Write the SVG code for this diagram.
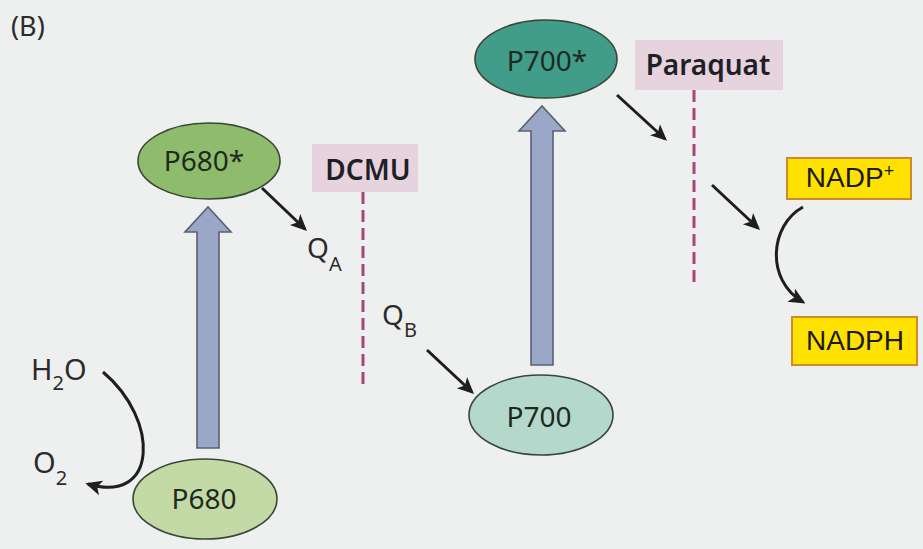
<svg xmlns="http://www.w3.org/2000/svg" width="923" height="549" viewBox="0 0 923 549">
<defs>
<style>
.lbl{font-family:"Noto Sans","Open Sans",sans-serif;fill:#2b2b2b;}
.node{font-family:"Noto Sans","Open Sans",sans-serif;fill:#1e2a1e;font-size:28px;text-anchor:middle;}
.inh{font-family:"Noto Sans","Open Sans",sans-serif;fill:#1f1f28;font-size:28px;font-weight:600;text-anchor:middle;}
.nadp{font-family:"Liberation Sans",Arial,sans-serif;fill:#1a1a10;font-size:28px;text-anchor:middle;}
.ell{stroke:#3a4636;stroke-width:1.6;}
.box{fill:#e6d3de;}
.ybox{fill:#ffe200;stroke:#cf8a2a;stroke-width:2;}
.blue{fill:#9aa7c6;stroke:#586074;stroke-width:1.6;}
.con{fill:none;stroke:#1e1e1e;stroke-width:3;marker-end:url(#ah);}
.dash{fill:none;stroke:#a8457c;stroke-width:3;stroke-dasharray:12 6;}
</style>
<marker id="ah" viewBox="0 0 12 11" refX="10" refY="5.5" markerWidth="5.5" markerHeight="5.5" orient="auto" markerUnits="strokeWidth">
<path d="M0,0 L12,5.5 L0,11 L3,5.5 z" fill="#1e1e1e"/>
</marker>
</defs>
<rect x="0" y="0" width="923" height="549" fill="#eef0ef"/>
<text class="lbl" x="11" y="36" font-size="27">(B)</text>

<g id="connectors">
<polygon class="blue" points="197,448 219,448 219,232 231,232 208,207 185,232 197,232"/>
<polygon class="blue" points="531,365 553,365 553,131 565,131 542,106 519,131 531,131"/>
<path class="con" d="M262,188 L305,229"/>
<path class="con" d="M427,350 L472,392"/>
<path class="con" d="M617,95 L665,139"/>
<path class="con" d="M712,185 L758,228"/>
<path class="con" d="M103,372 C160,420 158,505 88,484"/>
<path class="con" d="M803,207 C770,225 765,280 803,302"/>
<path class="dash" d="M363,192 L363,388"/>
<path class="dash" d="M694,90 L694,283"/>
</g>

<g id="P680star">
<ellipse class="ell" cx="209" cy="161" rx="71" ry="38" fill="#8fbc6c"/>
<text class="node" x="204" y="171" font-size="27">P680*</text>
</g>
<g id="P680">
<ellipse class="ell" cx="205" cy="499" rx="72" ry="40" fill="#c4daa6"/>
<text class="node" x="204" y="509">P680</text>
</g>
<g id="P700star">
<ellipse class="ell" cx="546" cy="59" rx="71" ry="39" fill="#419d89"/>
<text class="node" x="547" y="71">P700*</text>
</g>
<g id="P700">
<ellipse class="ell" cx="541" cy="415" rx="72" ry="40" fill="#b4d8cb"/>
<text class="node" x="539" y="427">P700</text>
</g>
<g id="DCMU">
<rect class="box" x="312" y="144" width="106" height="48"/>
<text class="inh" x="368" y="180" font-size="27">DCMU</text>
</g>
<g id="Paraquat">
<rect class="box" x="635" y="40" width="148" height="50"/>
<text class="inh" x="708" y="75">Paraquat</text>
</g>
<g id="NADPplus">
<rect class="ybox" x="787" y="158" width="124" height="41"/>
<text class="nadp" x="850" y="187">NADP<tspan font-size="18" dy="-10">+</tspan></text>
</g>
<g id="NADPH">
<rect class="ybox" x="792" y="317" width="125" height="48"/>
<text class="nadp" x="855" y="350">NADPH</text>
</g>
<g id="H2O">
<text class="lbl" x="31" y="380" font-size="29">H<tspan font-size="20" dy="10">2</tspan><tspan dy="-10">O</tspan></text>
</g>
<g id="O2">
<text class="lbl" x="33" y="473" font-size="29">O<tspan font-size="20" dy="12">2</tspan></text>
</g>
<g id="QA">
<text class="lbl" x="307" y="258" font-size="28">Q<tspan font-size="20" dy="13">A</tspan></text>
</g>
<g id="QB">
<text class="lbl" x="382" y="325" font-size="28">Q<tspan font-size="20" dy="12">B</tspan></text>
</g>
</svg>
